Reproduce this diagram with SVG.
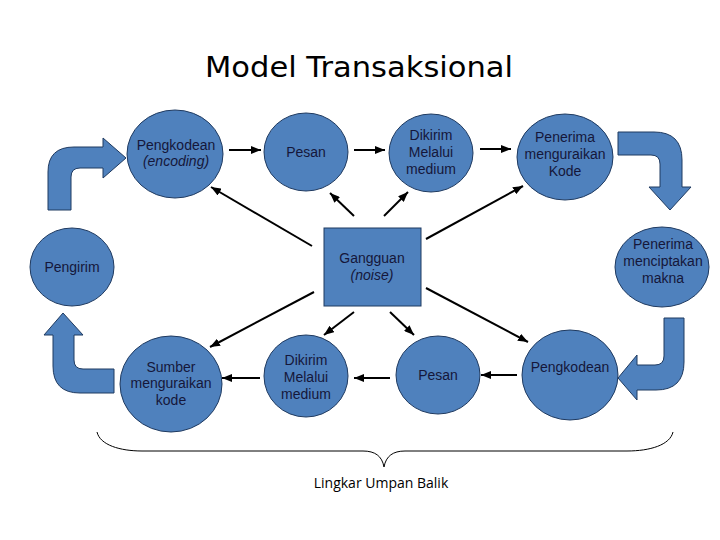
<svg xmlns="http://www.w3.org/2000/svg" width="720" height="540" viewBox="0 0 720 540">
<style>
.node{fill:#4f81bd;stroke:#1f3a60;stroke-width:1}
.bent{fill:#4f81bd;stroke:#1f3a60;stroke-width:1}
.t{font-family:"Liberation Sans",Arial,sans-serif;font-size:14px;fill:#15173a;text-anchor:middle}
.i{font-style:italic}
.c{stroke:#000;stroke-width:2;fill:none;marker-end:url(#ah)}
</style>
<defs>
<marker id="ah" viewBox="0 0 10 8" refX="10" refY="4" markerWidth="10" markerHeight="8" orient="auto" markerUnits="userSpaceOnUse">
<path d="M0,0 L10,4 L0,8 Z" fill="#000"/>
</marker>
</defs>
<rect width="720" height="540" fill="#fff"/>
<text x="359" y="77" font-family="'DejaVu Sans','Liberation Sans',sans-serif" font-size="29" fill="#000" text-anchor="middle" textLength="308" lengthAdjust="spacingAndGlyphs">Model Transaksional</text>

<g id="bent-arrows">
<path class="bent" d="M48,210 L48,172 Q48,147 74,147 L103,147 L103,138 L126,158 L103,178 L103,168 L80,168 Q71,168 71,177 L71,210 Z"/>
<path class="bent" d="M618,132 L654,132 Q682,132 682,160 L682,187 L691,187 L670,210 L649,187 L660,187 L660,164 Q660,155 651,155 L618,155 Z"/>
<path class="bent" d="M664,318 L684,318 L684,362 Q684,390 656,390 L637,390 L637,400 L618,378 L637,355 L637,365 L655,365 Q664,365 664,356 Z"/>
<path class="bent" d="M114,369 L114,393 L80,393 Q53,393 53,366 L53,335 L44,335 L63,313 L83,335 L74,335 L74,360 Q74,369 83,369 Z"/>
</g>

<g id="connectors">
<line class="c" x1="229" y1="150" x2="261" y2="150"/>
<line class="c" x1="354" y1="150" x2="385" y2="150"/>
<line class="c" x1="480" y1="149" x2="511" y2="149"/>
<line class="c" x1="312" y1="246" x2="211" y2="187"/>
<line class="c" x1="354" y1="216" x2="330" y2="193"/>
<line class="c" x1="384" y1="216" x2="408" y2="192"/>
<line class="c" x1="426" y1="239" x2="523" y2="186"/>
<line class="c" x1="314" y1="292" x2="210" y2="347"/>
<line class="c" x1="354" y1="312" x2="324" y2="335"/>
<line class="c" x1="390" y1="312" x2="414" y2="335"/>
<line class="c" x1="426" y1="288" x2="528" y2="342"/>
<line class="c" x1="517" y1="375" x2="481" y2="375"/>
<line class="c" x1="390" y1="378" x2="354" y2="378"/>
<line class="c" x1="260" y1="378" x2="222" y2="378"/>
</g>

<g id="pengkodean-top">
<ellipse class="node" cx="175" cy="154" rx="48" ry="44"/>
<text class="t" x="176" y="150">Pengkodean</text>
<text class="t i" x="176" y="166">(encoding)</text>
</g>
<g id="pesan-top">
<ellipse class="node" cx="306" cy="152" rx="42" ry="39"/>
<text class="t" x="306" y="157">Pesan</text>
</g>
<g id="dikirim-top">
<ellipse class="node" cx="431" cy="153" rx="42" ry="39"/>
<text class="t" x="431" y="140">Dikirim</text>
<text class="t" x="431" y="157">Melalui</text>
<text class="t" x="431" y="174">medium</text>
</g>
<g id="penerima-kode">
<ellipse class="node" cx="565" cy="157" rx="48" ry="43"/>
<text class="t" x="565" y="142">Penerima</text>
<text class="t" x="565" y="159">menguraikan</text>
<text class="t" x="565" y="176">Kode</text>
</g>
<g id="pengirim">
<ellipse class="node" cx="72" cy="267" rx="42" ry="39"/>
<text class="t" x="72" y="272">Pengirim</text>
</g>
<g id="gangguan">
<rect class="node" x="324" y="228" width="97" height="78"/>
<text class="t" x="372" y="263">Gangguan</text>
<text class="t i" x="372" y="280">(noise)</text>
</g>
<g id="penerima-makna">
<ellipse class="node" cx="662" cy="267" rx="47" ry="40"/>
<text class="t" x="663" y="249">Penerima</text>
<text class="t" x="663" y="266">menciptakan</text>
<text class="t" x="663" y="283">makna</text>
</g>
<g id="sumber">
<ellipse class="node" cx="171" cy="384" rx="51" ry="48"/>
<text class="t" x="171" y="372">Sumber</text>
<text class="t" x="171" y="388">menguraikan</text>
<text class="t" x="171" y="405">kode</text>
</g>
<g id="dikirim-bottom">
<ellipse class="node" cx="306" cy="376" rx="42" ry="41"/>
<text class="t" x="306" y="365">Dikirim</text>
<text class="t" x="306" y="382">Melalui</text>
<text class="t" x="306" y="399">medium</text>
</g>
<g id="pesan-bottom">
<ellipse class="node" cx="438" cy="375" rx="42" ry="39"/>
<text class="t" x="438" y="380">Pesan</text>
</g>
<g id="pengkodean-bottom">
<ellipse class="node" cx="570" cy="375" rx="48" ry="45"/>
<text class="t" x="570" y="372">Pengkodean</text>
</g>

<g id="brace">
<path d="M97,432 C100,445 120,451 142,451 L363,451 C375,451 382,456 384,467 C386,456 393,451 405,451 L627,451 C650,451 670,445 673,432" fill="none" stroke="#000" stroke-width="1"/>
<text x="381" y="488" font-family="'Open Sans','Liberation Sans',sans-serif" font-size="14" fill="#000" text-anchor="middle">Lingkar Umpan Balik</text>
</g>
</svg>
